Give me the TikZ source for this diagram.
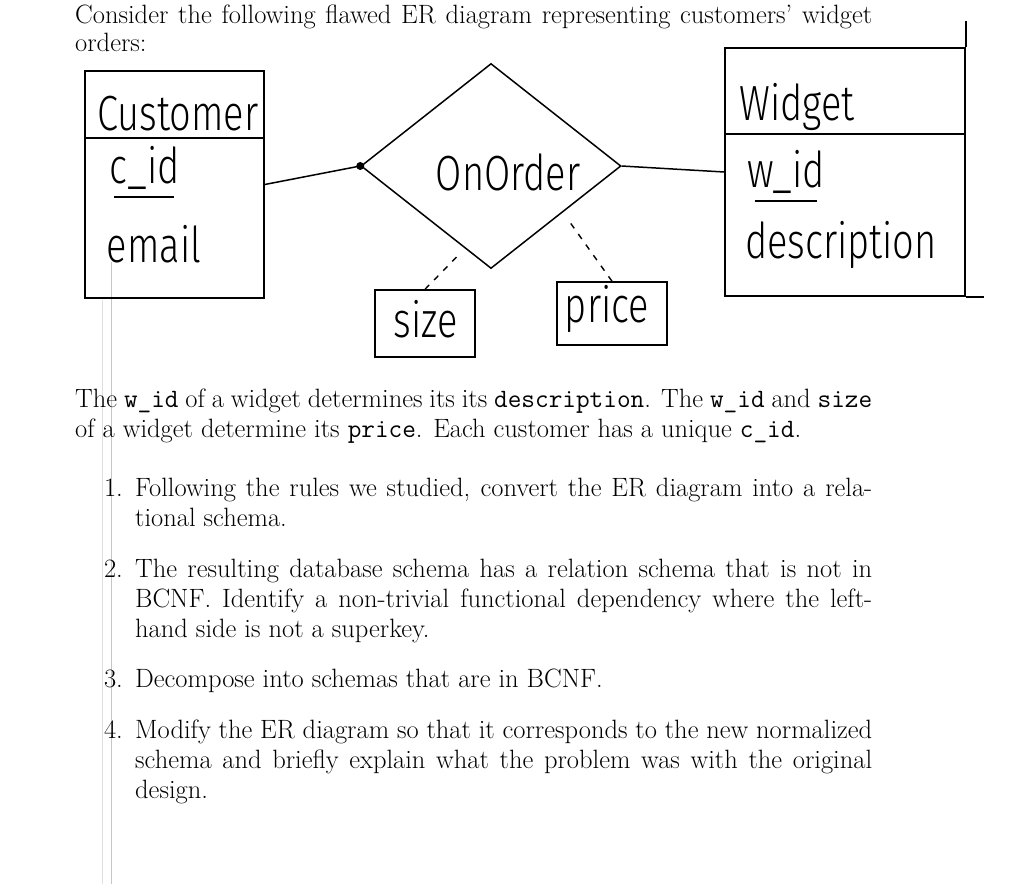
\documentclass[tikz,border=0pt]{standalone}
\usepackage{fontspec}
\usetikzlibrary{shapes.geometric, calc}
\newfontfamily\handfont{Fira Sans Light}
\newcommand{\hw}[1]{\scalebox{1}[1.3]{#1}}
\newcommand{\fullline}[1]{\hbox to 797pt{#1}}
\newcommand{\itemline}[1]{\hbox to 737pt{#1}}

\begin{document}
\begin{tikzpicture}[x=1pt, y=-1pt,
    body/.style={anchor=base west, inner sep=0pt, font=\fontsize{26.5}{30}\selectfont},
    label/.style={anchor=base east, inner sep=0pt, font=\fontsize{26.5}{30}\selectfont},
    hand/.style={anchor=base, inner sep=0pt, font=\fontsize{38}{40}\handfont},
    handline/.style={line width=1.5pt},
    handbox/.style={draw, line width=1.5pt, inner sep=0pt},
    attrlink/.style={line width=1.4pt, dash pattern=on 6pt off 7pt}]
  \path[use as bounding box, fill=white] (0,0) rectangle (1024,884);

  % scan marks
  \draw[gray!45, line width=0.8pt] (111.5,262) -- (111.5,884);
  \draw[gray!25, line width=0.8pt] (102,300) -- (102,884);

  % intro
  \node[body] (intro1) at (75,23) {\fullline{Consider the following flawed ER diagram representing customers' widget}};
  \node[body] (intro2) at (75,51) {orders:};

  % Customer entity
  \node[handbox, minimum width=179pt, minimum height=227pt] (customer) at (174.5,184.5) {};
  \draw[handline] (customer.west |- 0,138) -- (customer.east |- 0,138);
  \node[hand] (custname) at (178,130) {\hw{Customer}};
  \node[hand] (cid) at (145,183) {\hw{c\_id}};
  \draw[handline] ([xshift=4pt,yshift=-14pt]cid.base west) -- ([xshift=-6pt,yshift=-14pt]cid.base east);
  \node[hand] (email) at (154,262) {\hw{email}};

  % OnOrder relationship
  \node[diamond, draw, line width=1.5pt, inner sep=0pt, minimum width=260pt, minimum height=205pt] (onorder) at (491,166) {};
  \node[hand] (onordername) at (508,190) {\hw{OnOrder}};
  \draw[handline] (customer.east) -- (onorder.west);
  \fill (onorder.west) circle (4pt);

  % Widget entity
  \node[handbox, minimum width=240pt, minimum height=248pt] (widget) at (845,172) {};
  \draw[handline] (widget.west |- 0,134) -- (widget.east |- 0,134);
  \draw[handline] (widget.north east) -- ++(0,-26);
  \draw[handline] (widget.south east) -- ++(18,0);
  \node[hand] (widgetname) at (797,120) {\hw{Widget}};
  \node[hand] (wid) at (786,187) {\hw{w\_id}};
  \draw[handline] ([xshift=8pt,yshift=-14pt]wid.base west) -- ([xshift=-8pt,yshift=-14pt]wid.base east);
  \node[hand] (descr) at (841,258) {\hw{description}};
  \draw[handline] (onorder.east) -- (widget.west);

  % attributes of the relationship
  \node[handbox, minimum width=100pt, minimum height=67pt] (size) at (425,323.5) {};
  \node[hand] (sizename) at (426,337) {\hw{size}};
  \node[handbox, minimum width=110pt, minimum height=63pt] (price) at (612,313.5) {};
  \node[hand] (pricename) at (607,322) {\hw{price}};
  \draw[attrlink, shorten >=6pt] (size.north) -- ($(onorder.west)!0.8!(onorder.south)$);
  \draw[attrlink, shorten >=8pt] (price.north) -- ($(onorder.east)!0.45!(onorder.south)$);

  % problem text
  \node[body] (para1) at (75,407) {\fullline{The \texttt{w\_id} of a widget determines its its \texttt{description}. The \texttt{w\_id} and \texttt{size}}};
  \node[body] (para2) at (75,437) {of a widget determine its \texttt{price}. Each customer has a unique \texttt{c\_id}.};

  % questions
  \node[label] (num1) at (123,496) {1.};
  \node[body] (q1a) at (135,496) {\itemline{Following the rules we studied, convert the ER diagram into a rela-}};
  \node[body] (q1b) at (135,526) {tional schema.};
  \node[label] (num2) at (123,577) {2.};
  \node[body] (q2a) at (135,577) {\itemline{The resulting database schema has a relation schema that is not in}};
  \node[body] (q2b) at (135,607) {\itemline{BCNF. Identify a non-trivial functional dependency where the left-}};
  \node[body] (q2c) at (135,637) {hand side is not a superkey.};
  \node[label] (num3) at (123,687) {3.};
  \node[body] (q3a) at (135,687) {Decompose into schemas that are in BCNF.};
  \node[label] (num4) at (123,738) {4.};
  \node[body] (q4a) at (135,738) {\itemline{Modify the ER diagram so that it corresponds to the new normalized}};
  \node[body] (q4b) at (135,768) {\itemline{schema and briefly explain what the problem was with the original}};
  \node[body] (q4c) at (135,798) {design.};
\end{tikzpicture}
\end{document}
